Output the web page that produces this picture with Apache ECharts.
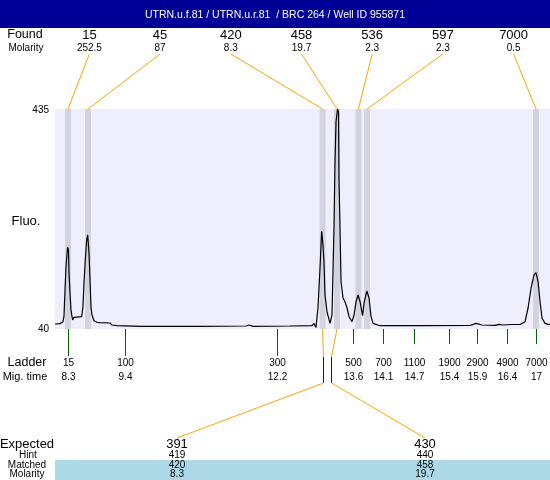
<!DOCTYPE html>
<html><head><meta charset="utf-8">
<script src="https://cdn.jsdelivr.net/npm/echarts@6/dist/echarts.min.js"></script>
<style>html,body{margin:0;padding:0;background:#fff}#c{width:550px;height:480px}</style>
</head><body><div id="c"></div>
<script>
const titleText = 'UTRN.u.f.81 / UTRN.u.r.81  / BRC 264 / Well ID 955871';
const traceTime = [8.053,8.146,8.201,8.220,8.239,8.257,8.287,8.304,8.313,8.332,8.350,8.369,8.382,8.406,8.549,8.573,8.592,8.616,8.642,8.661,8.685,8.704,8.722,8.741,8.778,8.834,8.890,9.076,9.113,9.206,9.652,10.006,10.043,10.099,10.750,11.605,11.661,11.736,12.424,12.833,12.870,12.907,12.944,12.982,13.013,13.037,13.056,13.075,13.112,13.168,13.205,13.242,13.261,13.280,13.308,13.326,13.335,13.354,13.373,13.410,13.447,13.485,13.522,13.578,13.615,13.652,13.690,13.727,13.774,13.801,13.852,13.894,13.931,13.969,14.005,14.098,14.842,15.772,15.884,15.996,16.237,16.312,16.386,16.554,16.703,16.796,16.852,16.908,16.963,17.000,17.038,17.075,17.112,17.168,17.196,17.224,17.261];
const traceFluo = [49.0,49.5,53.1,63.3,110,151.9,187.2,181.8,140,104.6,74.1,62.1,56.2,61,62.1,80,122.6,163.9,199.8,208.8,176.5,128,80,65.1,54.9,52,51.3,50.8,47.2,45.9,44.8,44.8,47.2,44.8,44.8,45.4,47.2,44.8,45.4,45.9,49.9,42.7,77.7,149.5,216,190.8,160.8,101,71.1,50.2,65.1,221.3,340.4,412.2,435,429.6,311.1,221.3,124.9,95.7,89,77.7,62.1,53.1,65.1,89,101,89,63.9,86.7,108.2,95.7,62.1,50.2,47.2,45.9,45.9,46.3,50.2,47.2,46.6,48.4,47.2,48.1,48.1,53.1,77.7,113.6,137,141.1,124.9,89,59.2,50.2,51.7,48.4,48.4];
const foundSize = ['15','45','420','458','536','597','7000'];
const foundMolarity = ['252.5','87','8.3','19.7','2.3','2.3','0.5'];
const foundTime = [8.294,8.667,13.03,13.298,13.696,13.857,17.0];
const ladderSize = ['15','100','300','500','700','1100','1900','2900','4900','7000'];
const ladderTime = [8.300,9.360,12.176,13.601,14.160,14.736,15.387,15.897,16.466,16.999];
const ladderTimeLabel = ['8.3','9.4','12.2','13.6','14.1','14.7','15.4','15.9','16.4','17'];
const yTicks = [40, 435];
const expected = ['391','430'];
const hint = ['419','440'];
const matched = ['420','458'];
const matchedMolarity = ['8.3','19.7'];
const matchedFoundIndex = [2, 3];

(function () {
const FONT = '"Liberation Sans", Arial, sans-serif';
const chart = echarts.init(document.getElementById('c'), null, {renderer: 'canvas'});
const bandHalf = 0.055;
chart.setOption({
  animation: false,
  backgroundColor: '#ffffff',
  grid: {left: 55, right: 0, top: 109, height: 220, show: true, backgroundColor: '#eeeefc', borderWidth: 0},
  xAxis: {type: 'value', min: 8.0526, max: 17.26, show: false},
  yAxis: {type: 'value', min: 40, max: 435, show: false},
  series: [{
    type: 'line', symbol: 'none', z: 3,
    data: traceTime.map((t, i) => [t, traceFluo[i]]),
    lineStyle: {color: '#000000', width: 1.2},
    markArea: {silent: true, itemStyle: {color: '#d3d3df'},
      data: foundTime.map(t => [{xAxis: t - bandHalf}, {xAxis: t + bandHalf}])}
  }]
});

const px = t => chart.convertToPixel({xAxisIndex: 0}, t);
const py = v => chart.convertToPixel({yAxisIndex: 0}, v);
const plotTop = py(435), plotBottom = py(40);
const g = [];
function txt(x, y, s, size, opt) {
  opt = opt || {};
  g.push({type: 'text', x: x, y: y, z: 10, style: {text: s, fontFamily: FONT, fontSize: size,
    fill: opt.fill || '#000', align: opt.align || 'center', verticalAlign: 'middle'}});
}
function ln(x1, y1, x2, y2, c) {
  g.push({type: 'line', z: 9, shape: {x1: x1, y1: y1, x2: x2, y2: y2}, style: {stroke: c, lineWidth: 1}});
}
g.push({type: 'rect', z: 5, shape: {x: 0, y: 0, width: 550, height: 28}, style: {fill: '#000096'}});
txt(275, 15, titleText, 10.5, {fill: '#ffffff'});
txt(25, 35, 'Found', 12.5);
txt(26, 48, 'Molarity', 10);
foundSize.forEach((s, i) => {
  const cx = 89.4 + i * 70.7;
  txt(cx, 35, s, 13);
  txt(cx, 48, foundMolarity[i], 10);
  ln(cx, 54, px(foundTime[i]), plotTop, '#ffa500');
});
yTicks.forEach(v => txt(49, py(v) + (v === 40 ? 0 : 1), String(v), 10, {align: 'right'}));
txt(26, 221, 'Fluo.', 13);
txt(27, 363, 'Ladder', 12.5);
txt(25, 377, 'Mig. time', 11);
ladderSize.forEach((s, i) => {
  const x = Math.round(px(ladderTime[i])) + 0.5;
  ln(x, plotBottom, x, i < 3 ? 356 : 344, '#006400');
  txt(x, 363, s, 10);
  txt(x, 377, ladderTimeLabel[i], 10);
});
const b0 = Math.round(px(foundTime[matchedFoundIndex[0]])) + 0.5;
const blueX = [b0, b0 + 8];
const expX = [177, 425];
matchedFoundIndex.forEach((fi, j) => {
  const fx = px(foundTime[fi]);
  ln(fx, plotBottom, blueX[j], 357, '#ffa500');
  ln(blueX[j], 357, blueX[j], 383, '#0000ff');
  ln(blueX[j], 383, expX[j], 438, '#ffa500');
});
g.push({type: 'rect', z: 5, shape: {x: 55, y: 460, width: 495, height: 20}, style: {fill: '#add8e6'}});
txt(27, 444, 'Expected', 13);
txt(28, 455.5, 'Hint', 10);
txt(27, 465.5, 'Matched', 10);
txt(27, 474.5, 'Molarity', 10);
expected.forEach((s, j) => {
  txt(expX[j], 444.5, s, 13);
  txt(expX[j], 455.5, hint[j], 10);
  txt(expX[j], 465.5, matched[j], 10);
  txt(expX[j], 474.5, matchedMolarity[j], 10);
});
chart.setOption({graphic: {elements: g}});
})();
</script></body></html>
